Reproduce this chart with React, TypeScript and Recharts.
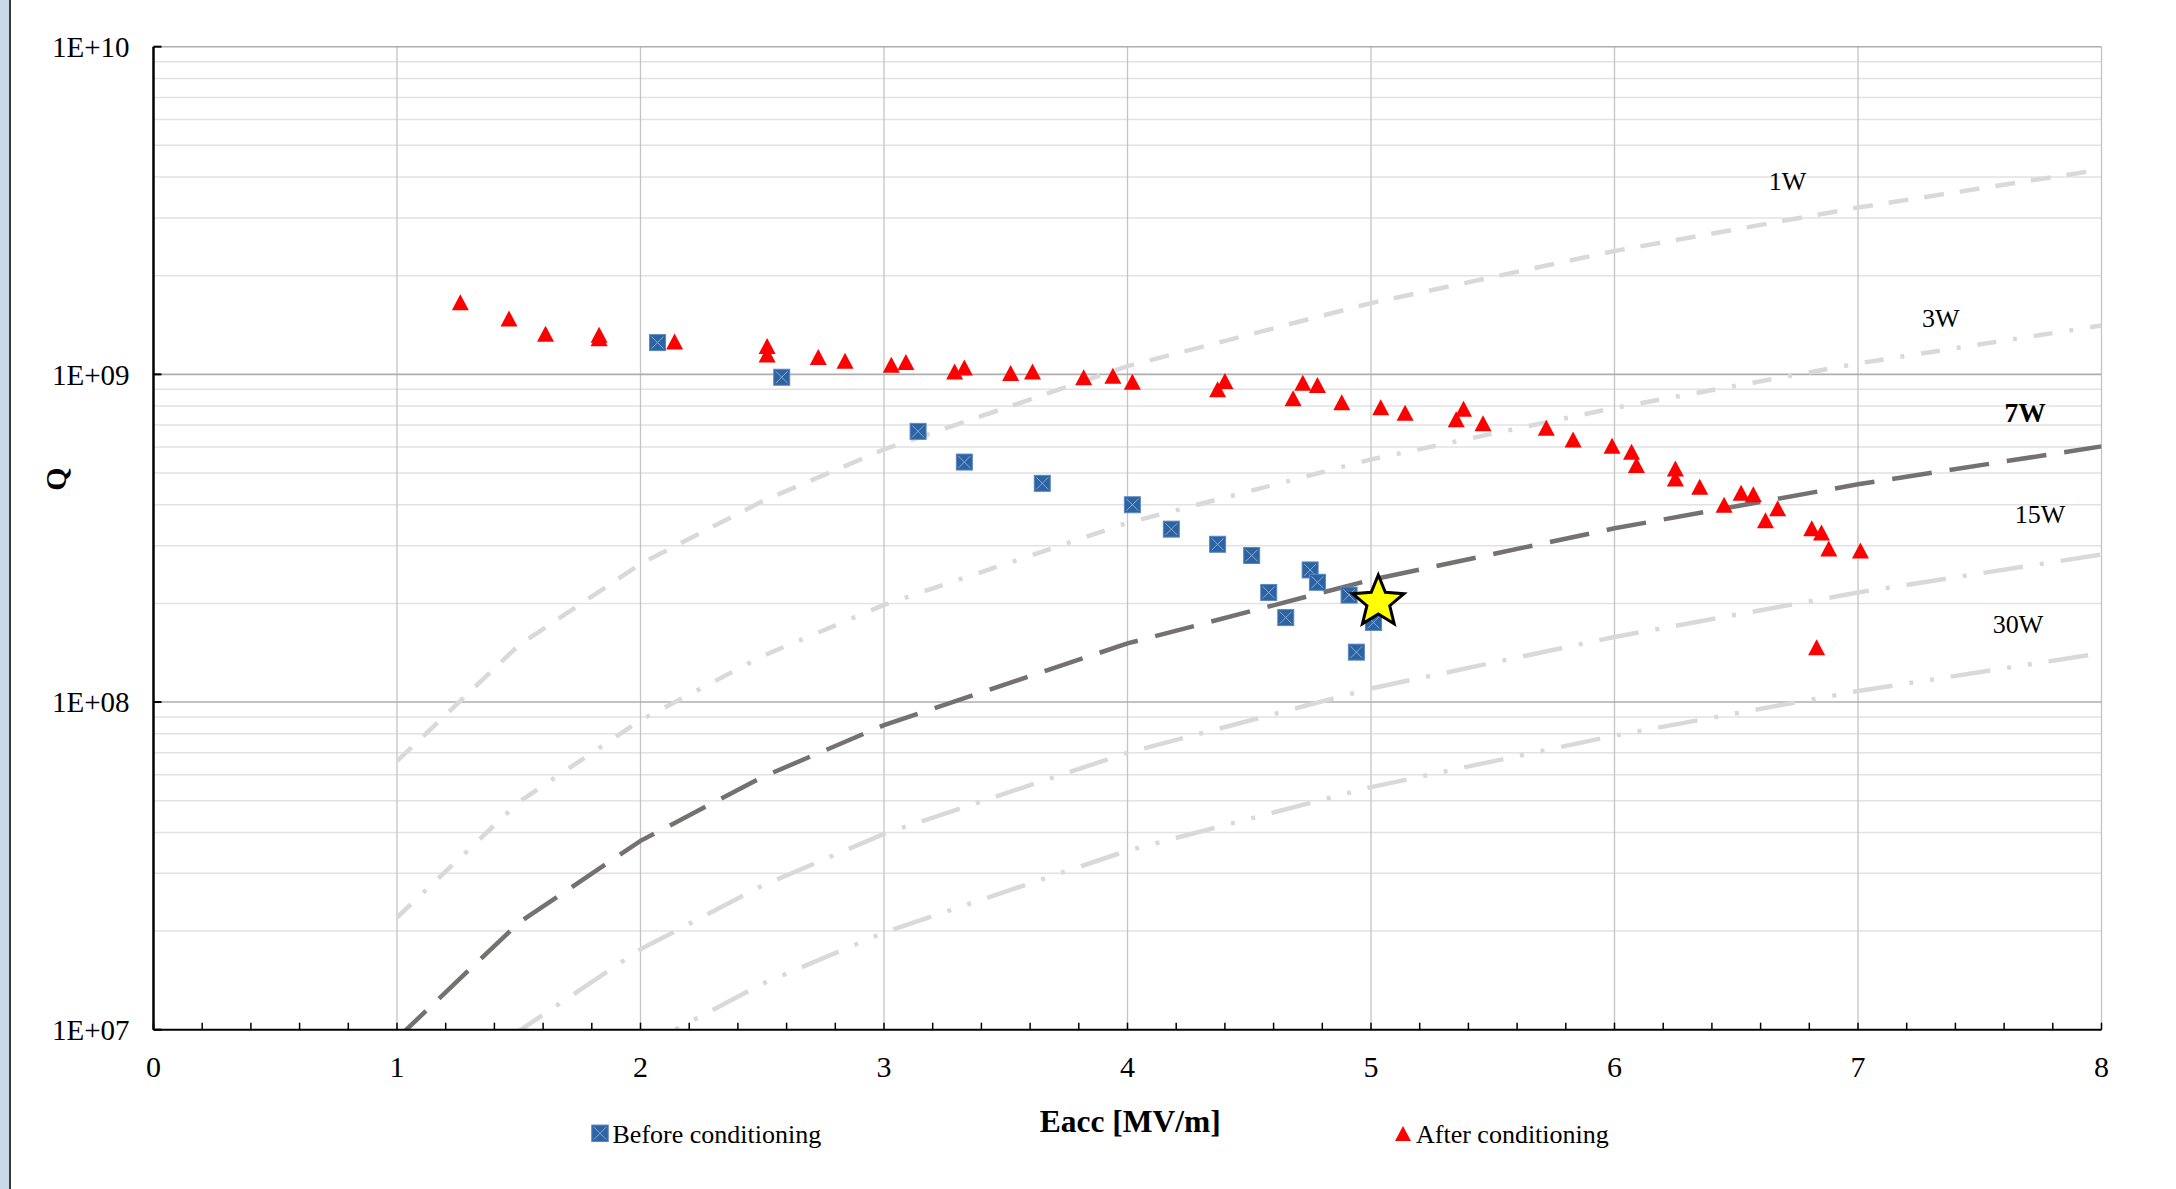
import {
  ComposedChart, Line, Scatter, XAxis, YAxis, ReferenceLine,
} from 'recharts';

const FONT = '"Liberation Serif", "Times New Roman", serif';

// Constant dissipated power lines, Eacc in MV/m
const powerEacc = [1, 1.5, 2, 2.5, 3, 4, 5, 6, 7, 8];
const q1W = [6.6e7, 1.49e8, 2.64e8, 4.1e8, 5.9e8, 1.06e9, 1.65e9, 2.38e9, 3.23e9, 4.22e9];
const q3W = [2.2e7, 4.95e7, 8.8e7, 1.38e8, 1.98e8, 3.52e8, 5.5e8, 7.9e8, 1.08e9, 1.41e9];
const q7W = [9.4e6, 2.12e7, 3.77e7, 5.9e7, 8.5e7, 1.51e8, 2.36e8, 3.39e8, 4.62e8, 6.03e8];
const q15W = [4.4e6, 9.9e6, 1.76e7, 2.75e7, 3.96e7, 7.0e7, 1.1e8, 1.58e8, 2.16e8, 2.82e8];
const q30W = [2.2e6, 4.95e6, 8.8e6, 1.38e7, 1.98e7, 3.52e7, 5.5e7, 7.9e7, 1.08e8, 1.41e8];

// Q0 vs Eacc, before conditioning
const beforeEacc = [2.07, 2.58, 3.14, 3.33, 3.65, 4.02, 4.18, 4.37, 4.51, 4.58, 4.65, 4.75, 4.78, 4.91, 5.01, 4.94];
const beforeQ = [1.25e9, 9.8e8, 6.7e8, 5.4e8, 4.65e8, 4.0e8, 3.37e8, 3.03e8, 2.8e8, 2.16e8, 1.81e8, 2.53e8, 2.32e8, 2.12e8, 1.75e8, 1.42e8];

// Q0 vs Eacc, after conditioning
const afterEacc = [
  1.26, 1.46, 1.61, 1.83, 1.83, 2.14, 2.52, 2.52, 2.73, 2.84,
  3.03, 3.09, 3.29, 3.33, 3.52, 3.61, 3.82, 3.94, 4.02, 4.37,
  4.40, 4.68, 4.72, 4.78, 4.88, 5.04, 5.14, 5.35, 5.38, 5.46,
  5.72, 5.83, 5.99, 6.07, 6.09, 6.25, 6.25, 6.35, 6.45, 6.52,
  6.57, 6.62, 6.67, 6.81, 6.85, 6.88, 7.01, 6.83,
];
const afterQ = [
  1.66e9, 1.48e9, 1.33e9, 1.32e9, 1.29e9, 1.26e9, 1.22e9, 1.15e9, 1.13e9, 1.10e9,
  1.07e9, 1.09e9, 1.02e9, 1.05e9, 1.01e9, 1.02e9, 9.8e8, 9.9e8, 9.5e8, 9.0e8,
  9.55e8, 8.45e8, 9.43e8, 9.28e8, 8.22e8, 7.93e8, 7.64e8, 7.29e8, 7.86e8, 7.09e8,
  6.87e8, 6.33e8, 6.06e8, 5.81e8, 5.29e8, 5.16e8, 4.81e8, 4.54e8, 4.0e8, 4.35e8,
  4.31e8, 3.59e8, 3.9e8, 3.39e8, 3.29e8, 2.94e8, 2.9e8, 1.47e8,
];

// design operating point
const specEacc = [5.03];
const specQ = [2.02e8];

const xTicks = [
  0, 0.2, 0.4, 0.6, 0.8, 1, 1.2, 1.4, 1.6, 1.8, 2, 2.2, 2.4, 2.6, 2.8, 3,
  3.2, 3.4, 3.6, 3.8, 4, 4.2, 4.4, 4.6, 4.8, 5, 5.2, 5.4, 5.6, 5.8, 6,
  6.2, 6.4, 6.6, 6.8, 7, 7.2, 7.4, 7.6, 7.8, 8,
];
const xGridValues = [1, 2, 3, 4, 5, 6, 7, 8];
const yTicks = [1e7, 1e8, 1e9, 1e10];
const minorMantissas = [2, 3, 4, 5, 6, 7, 8, 9];
const yMinorValues = [1e7, 1e8, 1e9].flatMap((d) => minorMantissas.map((m) => m * d));

const zip = (es: number[], qs: number[]) => es.map((e, i) => ({ e, q: qs[i] }));

const powerLines = [
  { id: '1W', q: q1W, color: '#d9d9d9', dash: '20 16' },
  { id: '3W', q: q3W, color: '#d9d9d9', dash: '19 17 4 17' },
  { id: '7W', q: q7W, color: '#767171', dash: '40 18' },
  { id: '15W', q: q15W, color: '#d9d9d9', dash: '40 17 4 17' },
  { id: '30W', q: q30W, color: '#d9d9d9', dash: '40 17 4 17 4 17' },
];

const fmtX = (v: number) => (Number.isInteger(v) ? String(v) : '');
const fmtY = (v: number) => `1E+${String(Math.round(Math.log10(v))).padStart(2, '0')}`;

function BeforeMarker({ cx, cy, s = 16 }: any) {
  const h = s / 2;
  return (
    <g>
      <rect x={cx - h} y={cy - h} width={s} height={s} fill="#2d63a1" stroke="#5a87c2" strokeWidth={1} />
      <path
        d={`M${cx - h + 2},${cy - h + 2}L${cx + h - 2},${cy + h - 2}M${cx + h - 2},${cy - h + 2}L${cx - h + 2},${cy + h - 2}`}
        stroke="#86acd8"
        strokeWidth={1}
      />
    </g>
  );
}

function AfterMarker({ cx, cy, w = 17, h = 16 }: any) {
  return (
    <polygon
      points={`${cx},${cy - h / 2} ${cx - w / 2},${cy + h / 2} ${cx + w / 2},${cy + h / 2}`}
      fill="#ff0000"
    />
  );
}

function SpecStar({ cx, cy }: any) {
  const R = 27;
  const r = 12;
  const pts: string[] = [];
  for (let i = 0; i < 10; i++) {
    const a = (Math.PI / 5) * i - Math.PI / 2;
    const rad = i % 2 === 0 ? R : r;
    pts.push(`${cx + rad * Math.cos(a)},${cy + rad * Math.sin(a)}`);
  }
  return <polygon points={pts.join(' ')} fill="#ffff00" stroke="#000" strokeWidth={3} strokeLinejoin="miter" />;
}

export default function App() {
  return (
    <div style={{ position: 'absolute', left: 0, top: 0, width: 2176, height: 1189, background: '#fff', overflow: 'hidden' }}>
      <div style={{ position: 'absolute', left: 0, top: 0, width: 9, height: 1189, background: '#c8d8e8' }} />
      <div style={{ position: 'absolute', left: 9, top: 0, width: 2, height: 1189, background: '#3c3c3c' }} />
      <ComposedChart
        width={2176}
        height={1189}
        margin={{ top: 46.7, right: 74.5, bottom: 99.3, left: 0 }}
        style={{ position: 'absolute', left: 0, top: 0 }}
      >
        {yMinorValues.map((v) => (
          <ReferenceLine key={`m${v}`} y={v} stroke="#e2e2e2" strokeWidth={1.5} />
        ))}
        {xGridValues.map((v) => (
          <ReferenceLine key={`x${v}`} x={v} stroke="#c4c4c4" strokeWidth={1.3} />
        ))}
        {yTicks.slice(1).map((v) => (
          <ReferenceLine key={`M${v}`} y={v} stroke="#aeaeae" strokeWidth={1.6} />
        ))}
        <XAxis
          type="number"
          dataKey="e"
          domain={[0, 8]}
          ticks={xTicks}
          interval={0}
          allowDataOverflow
          tickFormatter={fmtX}
          tickSize={-7}
          tickMargin={33}
          height={60}
          axisLine={{ stroke: '#000', strokeWidth: 2 }}
          tickLine={{ stroke: '#000', strokeWidth: 1.5 }}
          tick={{ fill: '#000', fontSize: 30, fontFamily: FONT }}
        />
        <YAxis
          type="number"
          dataKey="q"
          scale="log"
          domain={[1e7, 1e10]}
          ticks={yTicks}
          interval={0}
          allowDataOverflow
          tickFormatter={fmtY}
          width={153.5}
          tickSize={-8}
          tickMargin={32}
          axisLine={{ stroke: '#000', strokeWidth: 2.5 }}
          tickLine={{ stroke: '#000', strokeWidth: 2 }}
          tick={{ fill: '#000', fontSize: 29, fontFamily: FONT }}
        />
        {powerLines.map((p) => (
          <Line
            key={p.id}
            data={zip(powerEacc, p.q)}
            dataKey="q"
            type="linear"
            stroke={p.color}
            strokeWidth={4.5}
            strokeDasharray={p.dash}
            dot={false}
            activeDot={false}
            legendType="none"
            isAnimationActive={false}
          />
        ))}
        <Scatter
          name="Before conditioning"
          data={zip(beforeEacc, beforeQ)}
          dataKey="q"
          shape={(p: any) => <BeforeMarker cx={p.cx} cy={p.cy} />}
          isAnimationActive={false}
        />
        <Scatter
          name="After conditioning"
          data={zip(afterEacc, afterQ)}
          dataKey="q"
          shape={(p: any) => <AfterMarker cx={p.cx} cy={p.cy} />}
          isAnimationActive={false}
        />
        <Scatter
          data={zip(specEacc, specQ)}
          dataKey="q"
          shape={(p: any) => <SpecStar cx={p.cx} cy={p.cy} />}
          isAnimationActive={false}
        />
      </ComposedChart>
      <svg
        width={2176}
        height={1189}
        style={{ position: 'absolute', left: 0, top: 0, pointerEvents: 'none' }}
        fontFamily={FONT}
        fill="#000"
      >
        <text x={1787.5} y={190} fontSize={26} textAnchor="middle">1W</text>
        <text x={1940.7} y={327} fontSize={26} textAnchor="middle">3W</text>
        <text x={2025} y={421.7} fontSize={27.5} fontWeight="bold" textAnchor="middle">7W</text>
        <text x={2040} y={523} fontSize={26} textAnchor="middle">15W</text>
        <text x={2018} y={633} fontSize={26} textAnchor="middle">30W</text>
        <text transform="translate(66 479) rotate(-90)" fontSize={30} fontWeight="bold" textAnchor="middle">Q</text>
        <text x={1130.3} y={1131.5} fontSize={31.5} fontWeight="bold" textAnchor="middle">Eacc [MV/m]</text>
        <BeforeMarker cx={600} cy={1133.3} s={16.5} />
        <text x={612.5} y={1142.5} fontSize={26}>Before conditioning</text>
        <AfterMarker cx={1403} cy={1133.5} w={16} h={15} />
        <text x={1416} y={1142.5} fontSize={26}>After conditioning</text>
      </svg>
    </div>
  );
}
